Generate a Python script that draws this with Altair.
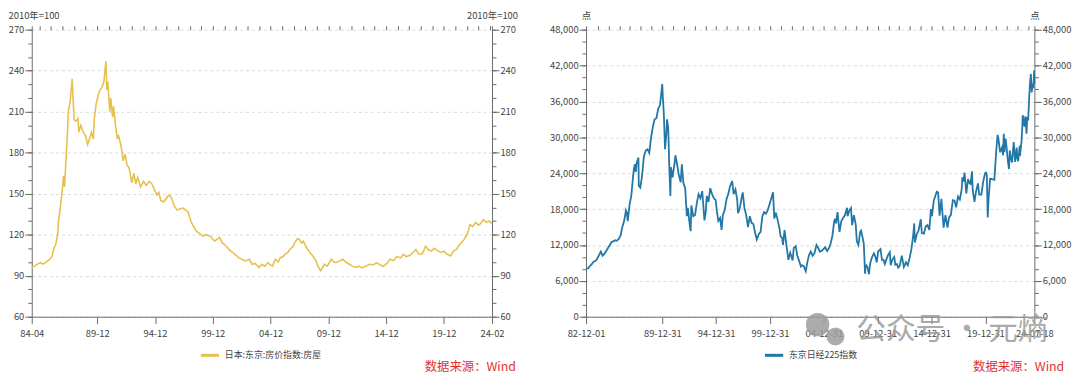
import altair as alt
import pandas as pd

FONT = "Noto Sans CJK SC"
GOLD = "#e6c14f"
BLUE = "#2277a6"
RED = "#e03232"
AXIS = "#6b6b6b"
LABEL = "#444444"

LEFT_NAME = "日本:东京:房价指数:房屋"
RIGHT_NAME = "东京日经225指数"
SOURCE = "数据来源：Wind"
WATERMARK = "公众号 · 元熵"

# ---- left: Tokyo house price index (2010=100) ----
left_dates = [
    "1984-04", "1984-07", "1984-10", "1985-01", "1985-04", "1985-07", "1985-10", "1986-01", "1986-03", "1986-05",
    "1986-07", "1986-08", "1986-10", "1986-12", "1987-01", "1987-02", "1987-04", "1987-05", "1987-06", "1987-08",
    "1987-10", "1987-11", "1987-12", "1988-02", "1988-04", "1988-05", "1988-07", "1988-09", "1988-12", "1989-02",
    "1989-04", "1989-06", "1989-08", "1989-09", "1989-11", "1990-01", "1990-03", "1990-05", "1990-07", "1990-09",
    "1990-10", "1990-11", "1991-01", "1991-02", "1991-04", "1991-05", "1991-07", "1991-09", "1991-10", "1992-01",
    "1992-03", "1992-05", "1992-07", "1992-09", "1992-12", "1993-02", "1993-04", "1993-06", "1993-09", "1993-12",
    "1994-03", "1994-06", "1994-09", "1994-12", "1995-02", "1995-04", "1995-06", "1995-09", "1996-01", "1996-03",
    "1996-05", "1996-08", "1996-11", "1997-02", "1997-05", "1997-08", "1997-10", "1998-02", "1998-05", "1998-07",
    "1998-10", "1999-02", "1999-05", "1999-09", "2000-02", "2000-05", "2000-07", "2000-10", "2001-02", "2001-05",
    "2001-09", "2001-12", "2002-03", "2002-06", "2002-10", "2003-02", "2003-05", "2003-08", "2003-12", "2004-03",
    "2004-06", "2004-09", "2004-12", "2005-02", "2005-05", "2005-08", "2005-10", "2006-01", "2006-03", "2006-06",
    "2006-08", "2006-11", "2007-01", "2007-04", "2007-06", "2007-08", "2007-10", "2008-01", "2008-03", "2008-06",
    "2008-08", "2008-11", "2009-01", "2009-04", "2009-06", "2009-08", "2009-11", "2010-03", "2010-06", "2010-08",
    "2010-11", "2011-03", "2011-06", "2011-10", "2012-01", "2012-04", "2012-08", "2012-11", "2013-03", "2013-07",
    "2013-11", "2014-02", "2014-06", "2014-09", "2015-01", "2015-04", "2015-08", "2015-11", "2016-03", "2016-06",
    "2016-09", "2017-01", "2017-04", "2017-07", "2017-10", "2018-01", "2018-03", "2018-05", "2018-08", "2018-11",
    "2019-02", "2019-05", "2019-09", "2019-12", "2020-03", "2020-07", "2020-10", "2021-01", "2021-03", "2021-06",
    "2021-09", "2021-12", "2022-02", "2022-03", "2022-06", "2022-09", "2022-12", "2023-02", "2023-05", "2023-08",
    "2023-11", "2024-02",
]
left_values = [
    96, 97, 98.5, 99.5, 98.5, 100, 101.5, 104, 110, 113,
    121, 131, 142, 155, 163, 155, 180, 192, 210, 218,
    234, 218, 204, 203, 205, 195, 200, 196, 192, 186,
    190, 195, 190, 205, 216, 222, 226, 228, 232, 247,
    226, 232, 210, 220, 206, 214, 200, 190, 193, 184,
    174, 179, 171, 169, 158, 165, 157, 162, 155, 159,
    156, 159, 157, 152, 149, 151, 145, 144, 148, 149,
    147, 141, 138, 139, 139.5, 138, 137, 128.6, 125, 122.5,
    121, 119, 120, 119, 115.3, 117, 118, 114, 111.6, 109,
    106.8, 105, 103.2, 102, 100.8, 102, 98.4, 99, 96, 98.4,
    97, 99.5, 98, 97, 102, 100, 103, 104, 105.6, 107,
    109.2, 111, 114, 117, 116.5, 114, 115.3, 111, 109, 106,
    104.4, 101, 97.2, 93.6, 96, 98.4, 97, 102, 100, 99.5,
    100.5, 102, 100, 98.4, 97, 96, 97, 95.7, 97, 98.4,
    98, 99.6, 98, 96.7, 99, 102, 101, 104, 103, 105.6,
    104, 105, 107, 109.2, 106, 105.6, 108, 111.6, 109, 108,
    110, 108.5, 107, 108, 106, 104.4, 108, 109, 111.6, 114,
    116.5, 120, 124, 127.4, 126, 129, 127, 128, 131, 129,
    130, 128,
]

# ---- right: Nikkei 225 ----
right_dates = [
    "1982-12-01", "1983-02-15", "1983-04-15", "1983-06-15", "1983-08-15", "1983-10-15", "1983-12-15", "1984-02-15",
    "1984-04-15", "1984-06-15", "1984-08-15", "1984-10-15", "1984-12-15", "1985-02-15", "1985-04-15", "1985-06-15",
    "1985-08-15", "1985-10-15", "1985-12-15", "1986-02-15", "1986-04-15", "1986-06-15", "1986-08-15", "1986-09-15",
    "1986-10-15", "1986-12-15", "1987-02-15", "1987-04-15", "1987-05-15", "1987-06-15", "1987-07-15", "1987-08-15",
    "1987-10-14", "1987-10-25", "1987-12-15", "1988-02-15", "1988-04-15", "1988-06-15", "1988-08-15", "1988-10-15",
    "1988-12-15", "1989-02-15", "1989-04-15", "1989-06-15", "1989-08-15", "1989-10-15", "1989-12-29", "1990-01-20",
    "1990-02-20", "1990-04-02", "1990-05-15", "1990-06-10", "1990-07-20", "1990-08-25", "1990-10-01", "1990-10-20",
    "1990-12-15", "1991-02-15", "1991-03-20", "1991-05-15", "1991-07-15", "1991-09-15", "1991-10-25", "1991-12-15",
    "1992-02-15", "1992-04-10", "1992-05-15", "1992-06-30", "1992-08-18", "1992-09-10", "1992-11-15", "1993-01-15",
    "1993-03-15", "1993-05-15", "1993-07-15", "1993-09-15", "1993-11-29", "1994-01-10", "1994-02-15", "1994-04-15",
    "1994-06-13", "1994-08-15", "1994-10-15", "1994-12-15", "1995-01-25", "1995-03-15", "1995-05-15", "1995-07-03",
    "1995-08-15", "1995-10-15", "1995-12-20", "1996-02-15", "1996-04-15", "1996-06-26", "1996-08-15", "1996-10-15",
    "1996-12-15", "1997-01-10", "1997-03-15", "1997-05-15", "1997-06-20", "1997-08-15", "1997-10-15", "1997-12-15",
    "1998-02-15", "1998-04-15", "1998-06-15", "1998-08-15", "1998-10-09", "1998-12-15", "1999-02-15", "1999-04-15",
    "1999-06-15", "1999-08-15", "1999-10-15", "1999-12-20", "2000-02-15", "2000-04-12", "2000-05-25", "2000-07-15",
    "2000-09-15", "2000-11-15", "2000-12-25", "2001-02-15", "2001-03-15", "2001-05-07", "2001-07-15", "2001-09-15",
    "2001-11-15", "2002-02-06", "2002-03-15", "2002-05-20", "2002-07-15", "2002-09-15", "2002-11-15", "2002-12-20",
    "2003-02-15", "2003-04-28", "2003-06-15", "2003-08-15", "2003-10-15", "2003-12-15", "2004-02-15", "2004-04-25",
    "2004-06-15", "2004-08-15", "2004-10-15", "2004-12-15", "2005-02-15", "2005-04-20", "2005-06-15", "2005-08-15",
    "2005-10-15", "2005-12-15", "2006-01-15", "2006-02-15", "2006-04-07", "2006-06-14", "2006-08-15", "2006-10-15",
    "2006-12-15", "2007-02-26", "2007-03-15", "2007-05-15", "2007-07-09", "2007-08-17", "2007-10-15", "2007-12-15",
    "2008-01-22", "2008-03-15", "2008-05-15", "2008-06-15", "2008-08-15", "2008-09-15", "2008-10-28", "2008-11-15",
    "2008-12-15", "2009-01-15", "2009-03-10", "2009-04-15", "2009-06-15", "2009-08-25", "2009-10-15", "2009-11-27",
    "2010-01-15", "2010-04-05", "2010-05-25", "2010-07-15", "2010-08-31", "2010-10-15", "2010-12-15", "2011-02-15",
    "2011-03-15", "2011-05-15", "2011-07-15", "2011-08-20", "2011-10-15", "2011-11-25", "2012-01-15", "2012-03-27",
    "2012-06-04", "2012-08-15", "2012-10-15", "2012-12-15", "2013-02-15", "2013-04-15", "2013-05-22", "2013-06-13",
    "2013-08-15", "2013-10-15", "2013-12-30", "2014-02-04", "2014-04-15", "2014-06-15", "2014-08-15", "2014-10-17",
    "2014-12-08", "2015-01-15", "2015-03-15", "2015-06-24", "2015-08-10", "2015-09-29", "2015-11-30", "2015-12-15",
    "2016-02-12", "2016-04-15", "2016-06-24", "2016-08-15", "2016-10-15", "2016-12-21", "2017-02-15", "2017-04-14",
    "2017-06-15", "2017-08-15", "2017-10-15", "2017-11-09", "2017-12-15", "2018-01-23", "2018-03-23", "2018-05-21",
    "2018-07-15", "2018-08-15", "2018-10-02", "2018-10-26", "2018-12-25", "2019-02-15", "2019-04-24", "2019-06-04",
    "2019-08-15", "2019-10-15", "2019-12-17", "2020-01-20", "2020-02-15", "2020-03-19", "2020-04-15", "2020-06-08",
    "2020-08-15", "2020-10-30", "2020-12-29", "2021-02-16", "2021-03-15", "2021-05-13", "2021-07-15", "2021-08-20",
    "2021-09-14", "2021-10-06", "2021-11-15", "2021-12-15", "2022-01-27", "2022-03-09", "2022-04-05", "2022-05-15",
    "2022-06-20", "2022-08-17", "2022-10-03", "2022-11-25", "2022-12-20", "2023-01-15", "2023-03-09", "2023-03-17",
    "2023-05-15", "2023-06-19", "2023-08-15", "2023-09-15", "2023-10-26", "2023-11-20", "2023-12-20", "2024-01-22",
    "2024-02-22", "2024-03-22", "2024-04-19", "2024-05-21", "2024-06-14", "2024-07-11", "2024-07-18",
]
right_values = [
    8000, 8100, 8500, 8800, 9200, 9300, 9700, 10300,
    10900, 10200, 10500, 11000, 11500, 12000, 12500, 12600,
    12800, 12700, 13000, 13600, 15000, 16000, 17800, 17400,
    16000, 18700, 20300, 23500, 24800, 25500, 24200, 25700,
    26600, 21900, 21600, 23600, 26800, 27800, 28000, 27400,
    30000, 31800, 33000, 33200, 34800, 35400, 38900, 36500,
    34000, 28000, 30500, 33000, 31500, 25000, 20200, 25000,
    23300, 25500, 27000, 25500, 23700, 22500, 25500, 22400,
    21500, 16800, 18200, 16100, 14300, 18600, 16800, 17000,
    19000, 20500, 19800, 21000, 16100, 17400, 20200, 19200,
    21500, 20500, 19800, 19500, 17600, 16000, 16500, 14500,
    17000, 17800, 19700, 20500, 21800, 22700, 20500, 21300,
    19500, 17300, 18200, 20000, 20800, 18200, 17000, 15000,
    16800, 15700, 15500, 14000, 12900, 13800, 14200, 16800,
    17500, 17200, 17800, 18900, 19800, 20800, 16400, 17400,
    16200, 14800, 13400, 13200, 12000, 14500, 11800, 9500,
    10700, 9400, 11500, 11800, 10200, 9300, 8400, 8600,
    8500, 7600, 9000, 10300, 10900, 10200, 10600, 12000,
    11600, 10900, 11000, 11300, 11600, 11000, 11400, 12200,
    13500, 15900, 16400, 15600, 17500, 14200, 16000, 16500,
    17000, 18200, 16800, 17800, 18200, 15300, 17000, 15500,
    12600, 12000, 14200, 14400, 13000, 12200, 7200, 8500,
    8600, 8300, 7100, 8800, 9900, 10600, 10000, 9100,
    10900, 11300, 9500, 9500, 8800, 9500, 10300, 10800,
    8600, 9600, 10000, 8700, 8800, 8200, 8500, 10200,
    8300, 9100, 8600, 9800, 11300, 13500, 15600, 12400,
    13800, 14400, 16300, 14000, 13900, 15100, 15300, 14500,
    18000, 16800, 19400, 20900, 20800, 16900, 19700, 18600,
    14900, 17000, 14900, 16600, 17000, 19500, 19400, 18300,
    20100, 19600, 21200, 23300, 22600, 24100, 20600, 23000,
    22300, 22200, 24300, 21200, 19200, 20900, 22300, 20400,
    20400, 22500, 24000, 24100, 23700, 16600, 19600, 23100,
    23000, 22900, 27500, 30400, 29800, 27500, 28300, 27000,
    30600, 27500, 29800, 28500, 26200, 24700, 27800, 26400,
    25800, 29200, 25900, 28300, 26500, 26000, 28600, 26900,
    29600, 33700, 31800, 33500, 30600, 33400, 32800, 36500,
    39100, 40600, 37500, 39000, 38200, 41200, 39000,
]

left_major = ["1984-04-01", "1989-12-01", "1994-12-01", "1999-12-01", "2004-12-01",
              "2009-12-01", "2014-12-01", "2019-12-01", "2024-02-01"]
left_minor = ["1984-04-01"] + [f"{y}-12-01" for y in range(1984, 2024)] + ["2024-02-01"]
right_major = ["1982-12-01", "1989-12-31", "1994-12-31", "1999-12-31", "2004-12-31",
               "2009-12-31", "2014-12-31", "2019-12-31", "2024-07-18"]
right_minor = ["1982-12-01"] + [f"{y}-12-31" for y in range(1983, 2024)] + ["2024-07-18"]

left_y_major = list(range(60, 271, 30))
left_y_minor = list(range(60, 271, 10))
right_y_major = list(range(0, 48001, 6000))
right_y_minor = list(range(0, 48001, 2000))


def ms(s):
    return int(pd.Timestamp(s).value // 10**6)


left_df = pd.DataFrame({"date": [d + "-01" for d in left_dates], "value": left_values, "series": LEFT_NAME})
right_df = pd.DataFrame({"date": right_dates, "value": right_values, "series": RIGHT_NAME})

H = 290


def panel(df, name, color, xdom, xmaj, xmin, xfmt, ydom, ymaj, ymin, yfmt, ytitle, width,
          leg_x, leg_y, src_x, src_y, stroke_w, ltitle_x, ltitle_align, extra=None):
    xs = alt.Scale(type="utc", domain=[ms(xdom[0]), ms(xdom[1])], nice=False)
    ys = alt.Scale(domain=ydom, nice=False, zero=False)
    common = dict(domainColor=AXIS, tickColor=AXIS, labelColor=LABEL, labelFontSize=9.5,
                  titleFontSize=9.5, titleColor=LABEL, titleFontWeight="normal")
    tkw = dict(titleAngle=0, titleBaseline="middle", titleY=-14.5)

    main = alt.Chart(df).mark_line(strokeWidth=stroke_w).encode(
        x=alt.X("date:T", scale=xs, axis=alt.Axis(
            values=[ms(v) for v in xmaj], format=xfmt, tickSize=7, labelPadding=5,
            labelFlush=False, labelOverlap=False, grid=False, title=None, **common)),
        y=alt.Y("value:Q", scale=ys, axis=alt.Axis(
            orient="left", values=ymaj, format=yfmt, tickSize=7, labelPadding=1,
            grid=True, gridDash=[3, 3], gridColor="#dadada", title=ytitle,
            titleX=ltitle_x, titleAlign=ltitle_align, **tkw, **common)),
        color=alt.Color("series:N", scale=alt.Scale(domain=[name], range=[color]), legend=alt.Legend(
            orient="none", legendX=leg_x, legendY=leg_y, title=None, symbolType="stroke",
            symbolSize=340, symbolStrokeWidth=3, labelFontSize=9, labelColor=LABEL,
            padding=0, labelOffset=4, labelFont=FONT)),
    )
    right_ax = alt.Chart(df).mark_line(strokeOpacity=0).encode(
        x=alt.X("date:T", scale=xs, axis=alt.Axis(
            values=[ms(v) for v in xmin], labels=False, tickSize=4, domain=False, grid=False,
            title=None, tickColor=AXIS)),
        y=alt.Y("value:Q", scale=ys, axis=alt.Axis(
            orient="right", values=ymaj, format=yfmt, tickSize=7, labelPadding=1, grid=False,
            title=ytitle, titleX=0, titleAlign="center", **tkw, **common)),
    )
    minor_l = alt.Chart(df).mark_line(strokeOpacity=0).encode(
        x=alt.X("date:T", scale=xs, axis=None),
        y=alt.Y("value:Q", scale=ys, axis=alt.Axis(
            orient="left", values=ymin, labels=False, tickSize=4, domain=False, grid=False,
            title=None, tickColor=AXIS)),
    )
    minor_r = alt.Chart(df).mark_line(strokeOpacity=0).encode(
        x=alt.X("date:T", scale=xs, axis=None),
        y=alt.Y("value:Q", scale=ys, axis=alt.Axis(
            orient="right", values=ymin, labels=False, tickSize=4, domain=False, grid=False,
            title=None, tickColor=AXIS)),
    )
    src = alt.Chart(pd.DataFrame({"t": [SOURCE]})).mark_text(
        align="left", baseline="middle", color=RED, fontSize=12.5, font=FONT
    ).encode(text="t:N", x=alt.value(src_x), y=alt.value(src_y))
    layers = [main, right_ax, minor_l, minor_r, src]
    if extra:
        layers += extra
    return alt.layer(*layers).resolve_axis(x="independent", y="independent").properties(
        width=width, height=H)


wm_c1 = alt.Chart(pd.DataFrame({"k": [1]})).mark_circle(
    color="#9c9c9c", opacity=0.85
).encode(x=alt.value(234), y=alt.value(298), size=alt.value(560))
wm_c2 = alt.Chart(pd.DataFrame({"k": [1]})).mark_circle(
    color="#9c9c9c", opacity=0.85
).encode(x=alt.value(252), y=alt.value(310), size=alt.value(330))
wm_text = alt.Chart(pd.DataFrame({"t": [WATERMARK]})).mark_text(
    align="left", baseline="middle", color="#9c9c9c", opacity=0.85, fontSize=30, font=FONT
).encode(text="t:N", x=alt.value(273), y=alt.value(304))

left = panel(left_df, LEFT_NAME, GOLD, ("1984-04-01", "2024-02-01"), left_major, left_minor, "%y-%m",
             [60, 270], left_y_major, left_y_minor, "d", "2010年=100", 465,
             169, 318, 397, 341, 1.6, -24, "left")
right = panel(right_df, RIGHT_NAME, BLUE, ("1982-12-01", "2024-07-18"), right_major, right_minor, "%y-%m-%d",
              [0, 48000], right_y_major, right_y_minor, ",d", "点", 453,
              179, 318, 391, 341, 1.8, 0, "center", extra=[wm_c1, wm_c2, wm_text])

chart = alt.hconcat(left, right, spacing=95, bounds="flush").resolve_scale(
    color="independent"
).properties(
    padding={"left": 0, "top": 0, "right": 0, "bottom": 0}, background="white"
).configure(font=FONT).configure_view(stroke=None)

chart.save("out.html", embed_options={"renderer": "svg", "actions": False})
